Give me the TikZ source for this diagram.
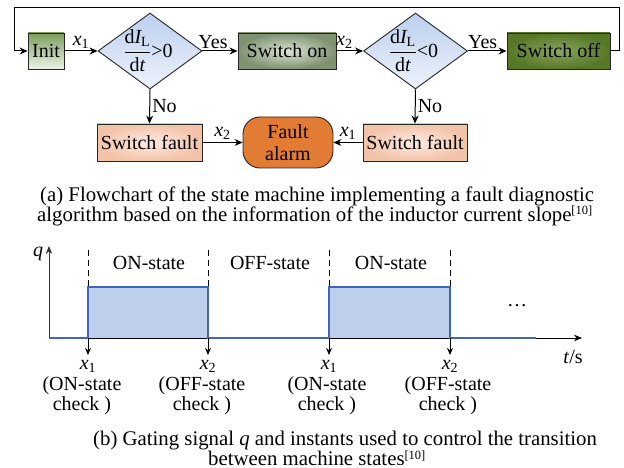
\documentclass[tikz,border=0pt]{standalone}
\usepackage{amsmath}
\usepackage{fontspec}
\setmainfont{Liberation Serif}
\usetikzlibrary{shapes.geometric,arrows.meta}

% fill colours of the flowchart blocks
\definecolor{initT}{HTML}{7C9C5F}
\definecolor{initB}{HTML}{EEF3E6}
\definecolor{sonI}{HTML}{DDE4D4}
\definecolor{sonO}{HTML}{7E9270}
\definecolor{soffI}{HTML}{8AA462}
\definecolor{soffO}{HTML}{567826}
\definecolor{fltI}{HTML}{FCEBE2}
\definecolor{fltO}{HTML}{F3C3A9}
\definecolor{diaT}{HTML}{BCCFEE}
\definecolor{diaB}{HTML}{EEF3FB}
\definecolor{alarm}{HTML}{E27B33}
% gating signal colours
\definecolor{pulseFill}{HTML}{BECFEC}
\definecolor{pulseLine}{HTML}{3D68B8}

\newcommand\boxfont{\fontsize{20}{22}\selectfont}
\newcommand\capfont{\fontsize{20.8}{20}\selectfont}
\newcommand\xx[1]{\textit{x}\textsubscript{#1}}
\newcommand\slope{\(\dfrac{\textrm{d}\textit{I}_{\textrm{L}}}{\textrm{d}\textit{t}}\)}
% reference mark set as a small raised bracket
\newcommand\refmark[1]{\raisebox{6pt}{\fontsize{12.5}{12.5}\selectfont[#1]}}

\tikzset{
  blk/.style={draw=black!85, line width=0.9pt, minimum height=36pt,
              inner sep=0pt, font=\boxfont},
  dia/.style={diamond, draw=black!85, line width=0.9pt, minimum width=104pt,
              minimum height=76pt, inner sep=0pt, top color=diaT, bottom color=diaB},
  arr/.style={line width=1pt, -{Stealth[length=8pt,width=7pt]}},
  lbl/.style={font=\boxfont, inner sep=2pt},
  ax/.style={line width=1pt, -{Stealth[length=8pt,width=6.5pt]}},
  sig/.style={draw=pulseLine, line width=1.6pt, line join=miter},
  mark line/.style={line width=0.9pt, dash pattern=on 6pt off 4pt},
  tick arr/.style={line width=1pt, -{Stealth[length=7pt,width=6pt]}},
  txt/.style={font=\boxfont, inner sep=0pt},
  captext/.style={font=\capfont, inner sep=0pt, anchor=base west},
}

\begin{document}
\begin{tikzpicture}[x=1pt,y=-1pt]
\useasboundingbox (0,0) rectangle (624,468);

% ---------------- (a) flowchart ----------------
\node[blk, minimum width=36pt, top color=initT, bottom color=initB] (init) at (46,51) {Init};
\node[dia, label={[font=\boxfont, xshift=-2pt]center:\slope>0}] (d1) at (150,51) {};
\node[blk, minimum width=98pt, inner color=sonI, outer color=sonO] (son) at (287,51) {Switch on};
\node[dia, label={[font=\boxfont, xshift=-2pt]center:\slope<0}] (d2) at (415.5,51) {};
\node[blk, minimum width=103pt, inner color=soffI, outer color=soffO] (soff) at (558.5,51) {Switch off};

\node[blk, minimum width=105pt, minimum height=37pt, inner color=fltI, outer color=fltO] (sf1) at (149.5,142.5) {Switch fault};
\node[blk, minimum width=104pt, minimum height=37pt, inner color=fltI, outer color=fltO] (sf2) at (415,142.5) {Switch fault};
\node[draw=black!85, line width=0.9pt, rounded corners=17pt, minimum width=90pt,
      minimum height=51pt, fill=alarm, align=center, inner sep=0pt,
      font=\fontsize{20}{22}\selectfont] (alarm) at (288,142.5) {Fault\\alarm};

\draw[arr] (init) -- node[lbl, above] {\xx{1}} (d1);
\draw[arr] (d1) -- node[lbl, above, pos=0.3] {Yes} (son);
\draw[arr] (son) -- node[lbl, above, pos=0.3] {\xx{2}} (d2);
\draw[arr] (d2) -- node[lbl, above, pos=0.38] {Yes} (soff);
\draw[arr] (d1.south) -- node[lbl, right] {No} (sf1.north);
\draw[arr] (d2.south) -- node[lbl, right] {No} (sf2.north);
\draw[arr] (sf1) -- node[lbl, above] {\xx{2}} (alarm);
\draw[arr] (sf2) -- node[lbl, above] {\xx{1}} (alarm);

% return path from "Switch off" back to "Init"
\coordinate (loopR) at (619,8);
\coordinate (loopL) at (14,8);
\draw[arr] (soff.east) -| (loopR) -- (loopL) |- (init.west);

% caption (a)
\node[captext] (capa1) at (40,201) {(a) Flowchart of the state machine implementing a fault diagnostic};
\node[captext] (capa2) at (37,221) {algorithm based on the information of the inductor current slope\refmark{10}};

% ---------------- (b) gating signal ----------------
\coordinate (O) at (49,338);
\coordinate (qtop) at (49,246);
\coordinate (tend) at (582,338);

\fill[pulseFill] (88,287) rectangle (208,338);
\fill[pulseFill] (329,287) rectangle (450,338);

\draw[ax, black!80] (O) -- (qtop);
\draw[ax] (O) -- (tend);

\draw[sig] (O) -- (88,338) -- (88,287) -- (208,287) -- (208,338) -- (329,338)
  -- (329,287) -- (450,287) -- (450,338) -- (536,338);

\foreach \px in {88,208,329,450}{
  \draw[mark line] (\px,250) -- (\px,287);
  \draw[tick arr] (\px,338) -- (\px,355);
}

\node[txt] (qlab) at (38,254) {\textit{q}};
\node[txt] (tlab) at (573,357) {\textit{t}/s};
\node[txt] (dots) at (517,306) {\ldots};

\node[txt] (st1) at (149,263) {ON-state};
\node[txt] (st2) at (270,263) {OFF-state};
\node[txt] (st3) at (391,263) {ON-state};

\node[txt] (xa) at (88,366) {\xx{1}};
\node[txt] (xb) at (208,366) {\xx{2}};
\node[txt] (xc) at (329,366) {\xx{1}};
\node[txt] (xd) at (450,366) {\xx{2}};

\node[txt, align=center, font=\fontsize{20}{20}\selectfont] (ca) at (82,396) {(ON-state\\check )};
\node[txt, align=center, font=\fontsize{20}{20}\selectfont] (cb) at (202,396) {(OFF-state\\check )};
\node[txt, align=center, font=\fontsize{20}{20}\selectfont] (cc) at (327,396) {(ON-state\\check )};
\node[txt, align=center, font=\fontsize{20}{20}\selectfont] (cd) at (448,396) {(OFF-state\\check )};

% caption (b)
\node[captext] (capb1) at (93,445) {(b) Gating signal \textit{q} and instants used to control the transition};
\node[captext] (capb2) at (208,465) {between machine states\refmark{10}};
\end{tikzpicture}
\end{document}
